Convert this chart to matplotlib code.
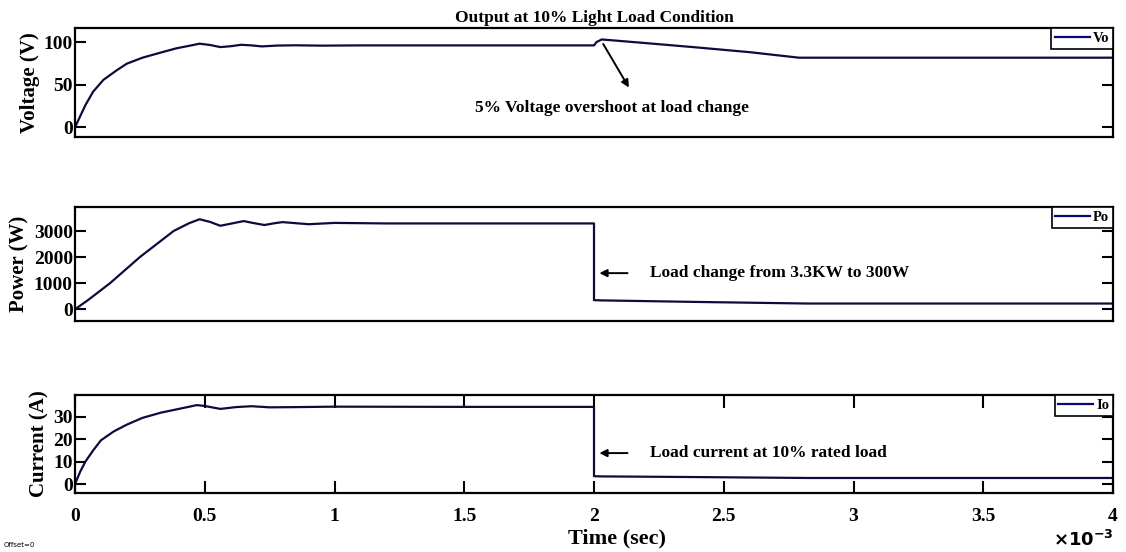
import matplotlib
matplotlib.use("Agg")
import matplotlib.pyplot as plt

# time in ms (axis shown as x10^-3 sec)
t_v = [0, 0.02, 0.04, 0.07, 0.11, 0.16, 0.2, 0.26, 0.33, 0.39, 0.44, 0.48, 0.52, 0.56,
       0.6, 0.64, 0.68, 0.72, 0.78, 0.85, 0.95, 1.1, 1.3, 2.0, 2.01, 2.03, 2.2, 2.4,
       2.6, 2.79, 3.0, 4.0]
vo = [0, 13, 26, 42, 56, 67, 75, 82, 88, 93, 96, 98.5, 97, 94.5,
      95.5, 97.2, 96.5, 95.3, 96.3, 96.6, 96.2, 96.5, 96.5, 96.5, 100.5, 103.5, 99.2, 94,
      88.5, 82, 82, 82]

t_p = [0, 0.05, 0.135, 0.25, 0.38, 0.44, 0.48, 0.52, 0.56, 0.61, 0.65, 0.69, 0.73, 0.77,
       0.8, 0.85, 0.9, 1.0, 1.2, 1.5, 2.0, 2.0, 2.03, 2.4, 2.82, 4.0]
po = [0, 350, 1000, 2000, 3000, 3300, 3450, 3350, 3200, 3300, 3380, 3300, 3230, 3300,
      3340, 3300, 3260, 3310, 3290, 3290, 3290, 350, 340, 280, 220, 220]

t_i = [0, 0.02, 0.04, 0.07, 0.1, 0.15, 0.2, 0.26, 0.33, 0.4, 0.47, 0.5, 0.56, 0.62,
       0.68, 0.75, 0.85, 1.0, 1.5, 2.0, 2.0, 2.03, 2.4, 2.82, 4.0]
io = [0, 5.5, 10, 15, 19.5, 23.5, 26.5, 29.5, 31.8, 33.5, 35.2, 34.8, 33.5, 34.3,
      34.7, 34.2, 34.3, 34.5, 34.4, 34.4, 3.5, 3.4, 3.1, 2.7, 2.7]

x_ticks = [0, 0.5, 1, 1.5, 2, 2.5, 3, 3.5, 4]
x_labels = ["0", "0.5", "1", "1.5", "2", "2.5", "3", "3.5", "4"]

plt.rcParams["font.family"] = ["Liberation Serif", "DejaVu Serif"]
plt.rcParams["font.weight"] = "bold"

LINE = "#0c0c3c"
W, H = 1126, 552
fig = plt.figure(figsize=(W / 100, H / 100), dpi=100)

def px_axes(top, bottom, left=75, right=1113):
    return fig.add_axes([left / W, 1 - bottom / H, (right - left) / W, (bottom - top) / H])

ax1 = px_axes(28, 137)
ax2 = px_axes(207, 321)
ax3 = px_axes(395, 493)

panels = [
    (ax1, t_v, vo, "Vo", "Voltage (V)", (-11.5, 117), [0, 50, 100]),
    (ax2, t_p, po, "Po", "Power (W)", (-450, 3920), [0, 1000, 2000, 3000]),
    (ax3, t_i, io, "Io", "Current (A)", (-4, 39.7), [0, 10, 20, 30]),
]

for ax, t, y, name, ylab, ylim, yt in panels:
    ax.plot(t, y, color=LINE, lw=1.6, label=name)
    ax.set_xlim(0, 4)
    ax.set_ylim(*ylim)
    ax.set_yticks(yt)
    ax.set_ylabel(ylab, fontsize=15, fontweight="bold", labelpad=3)
    for s in ax.spines.values():
        s.set_linewidth(1.6)
    ax.tick_params(axis="y", which="both", direction="in", length=8, width=1.5,
                   right=True, labelsize=14, pad=1.5)
    ax.set_xticks(x_ticks)
    leg = ax.legend(loc="upper right", fontsize=10.5, handlelength=2.4, handletextpad=0.2,
                    borderpad=0.25, borderaxespad=0, fancybox=False, framealpha=1,
                    edgecolor="black")
    leg.get_frame().set_linewidth(1.2)
    leg.get_lines()[0].set_color("#0a0a6e")

for ax in (ax1, ax2):
    ax.tick_params(axis="x", length=0, labelbottom=False)

ax3.set_xticklabels(x_labels)
ax3.tick_params(axis="x", direction="in", length=9, width=1.5, top=True,
                labelsize=14, pad=11)

ax1.set_title("Output at 10% Light Load Condition", fontsize=12.5, fontweight="bold", pad=4)

arrow = dict(arrowstyle="-|>", color="black", lw=1.4, mutation_scale=11)
ax1.annotate("", xy=(2.14, 44), xytext=(2.03, 101), arrowprops=arrow)
ax1.text(2.07, 22.8, "5% Voltage overshoot at load change", fontsize=12.5,
         fontweight="bold", ha="center", va="center")

ax2.annotate("", xy=(2.01, 1385), xytext=(2.14, 1385), arrowprops=arrow)
ax2.text(2.215, 1385, "Load change from 3.3KW to 300W", fontsize=12.5,
         fontweight="bold", ha="left", va="center")

ax3.annotate("", xy=(2.01, 13.8), xytext=(2.14, 13.8), arrowprops=arrow)
ax3.text(2.215, 13.8, "Load current at 10% rated load", fontsize=12.5,
         fontweight="bold", ha="left", va="center")

fig.text(617 / W, 4 / H, "Time (sec)", fontsize=16, fontweight="bold",
         ha="center", va="bottom")
fig.text(1114 / W, 2 / H, r"$\times\mathbf{10^{-3}}$", fontsize=13,
         ha="right", va="bottom")
fig.text(4 / W, 4 / H, "Offset=0", fontsize=5, fontweight="normal",
         family="DejaVu Sans", ha="left", va="bottom")

fig.savefig("out.png", dpi=100)
